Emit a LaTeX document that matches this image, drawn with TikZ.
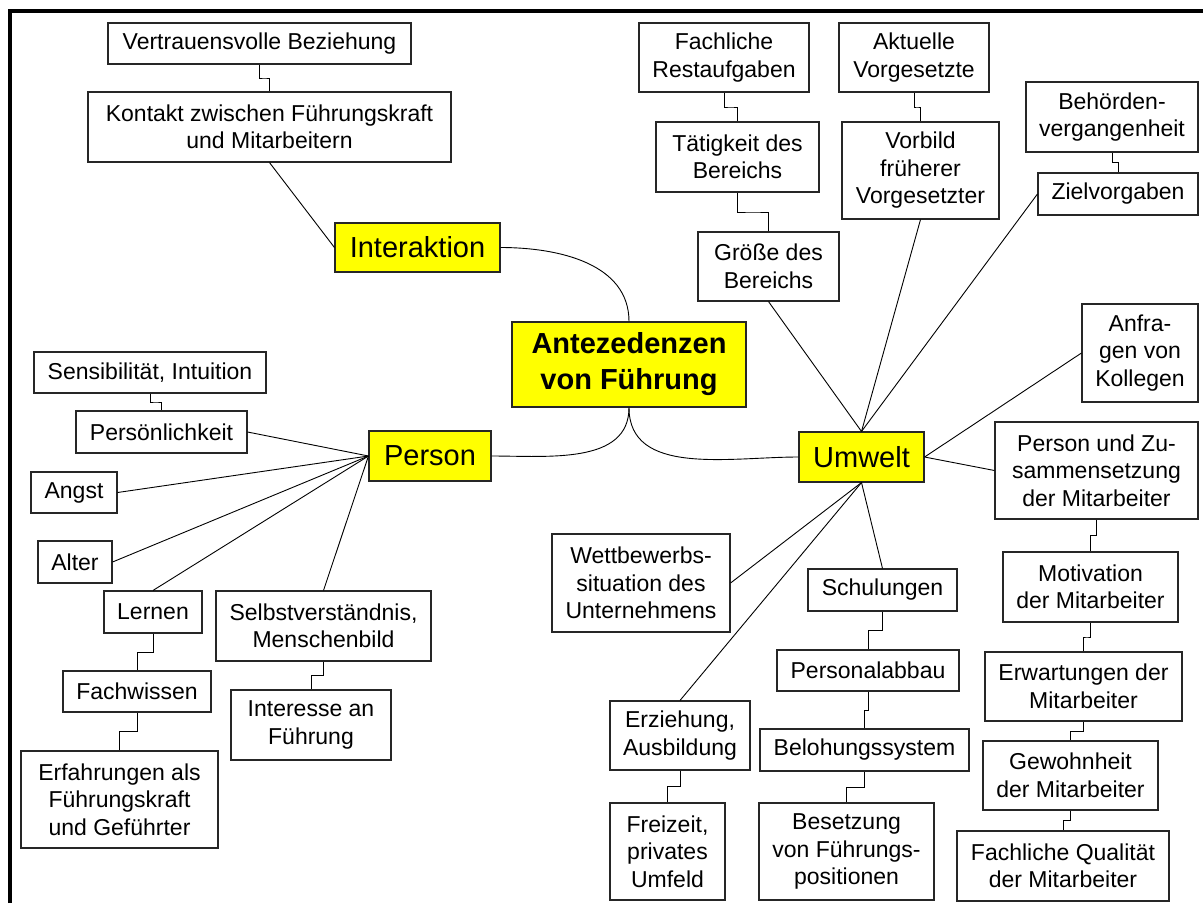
\documentclass[tikz,border=0pt]{standalone}
\usepackage{fontspec}
\setmainfont{Liberation Sans}
\usetikzlibrary{calc}
\definecolor{hubyellow}{RGB}{255,255,0}

\begin{document}
\begin{tikzpicture}[
    x=1pt, y=1pt,
    box/.style={draw=black!85, fill=white, line width=1.1pt, align=center, inner sep=1pt, font=\fontsize{23}{27.5}\selectfont},
    hub/.style={box, fill=hubyellow, font=\fontsize{29}{36}\selectfont},
    link/.style={draw=black, line width=0.9pt}
]
    \useasboundingbox (0,0) rectangle (1203,-903);
    % frame (top and left edge only)
    \draw[line width=3.5pt] (10,-903) -- (10,-11) -- (1203,-11);

    % centre and the three branches
    \node[hub, minimum width=234pt, minimum height=85pt, font=\fontsize{29}{36}\selectfont\bfseries] (antez) at (629,-364.5) {Antezedenzen\\von Führung};
    \node[hub, minimum width=165pt, minimum height=49pt] (interaktion) at (417.5,-247.5) {Interaktion};
    \node[hub, minimum width=122pt, minimum height=50pt] (person) at (430,-456) {Person};
    \node[hub, minimum width=125pt, minimum height=50pt] (umwelt) at (861.5,-457) {Umwelt};

    % Interaktion
    \node[box, minimum width=303pt, minimum height=41pt] (vertrauen) at (259.5,-43.5) {Vertrauensvolle Beziehung};
    \node[box, minimum width=363pt, minimum height=70pt] (kontakt) at (269.5,-127) {Kontakt zwischen Führungskraft\\und Mitarbeitern};

    % Person
    \node[box, minimum width=232pt, minimum height=41pt] (sensib) at (150,-372.5) {Sensibilität, Intuition};
    \node[box, minimum width=171pt, minimum height=42pt] (persoenl) at (161.5,-432) {Persönlichkeit};
    \node[box, minimum width=86pt, minimum height=41pt] (angst) at (74,-492.5) {Angst};
    \node[box, minimum width=74pt, minimum height=42pt] (alter) at (75,-562) {Alter};
    \node[box, minimum width=98pt, minimum height=42pt] (lernen) at (153,-612) {Lernen};
    \node[box, minimum width=148pt, minimum height=41pt] (fachwissen) at (137,-691.5) {Fachwissen};
    \node[box, minimum width=197pt, minimum height=97pt] (erfahrung) at (119.5,-799.5) {Erfahrungen als\\Führungskraft\\und Geführter};
    \node[box, minimum width=215pt, minimum height=70pt] (selbst) at (323.5,-626) {Selbstverständnis,\\Menschenbild};
    \node[box, minimum width=160pt, minimum height=70pt] (interesse) at (311,-725) {Interesse an\\Führung};

    % Umwelt, upper part
    \node[box, minimum width=170pt, minimum height=69pt] (restauf) at (724,-57.5) {Fachliche\\Restaufgaben};
    \node[box, minimum width=163pt, minimum height=70pt] (taetig) at (737.5,-157) {Tätigkeit des\\Bereichs};
    \node[box, minimum width=141pt, minimum height=69pt] (groesse) at (768.5,-266.5) {Größe des\\Bereichs};
    \node[box, minimum width=150pt, minimum height=69pt] (aktuell) at (914,-57.5) {Aktuelle\\Vorgesetzte};
    \node[box, minimum width=157pt, minimum height=97pt] (vorbild) at (920.5,-170.5) {Vorbild\\früherer\\Vorgesetzter};
    \node[box, minimum width=172pt, minimum height=70pt] (behoerde) at (1112,-117) {Behörden-\\vergangenheit};
    \node[box, minimum width=160pt, minimum height=42pt] (ziel) at (1118,-194) {Zielvorgaben};
    \node[box, minimum width=116pt, minimum height=98pt] (anfragen) at (1140,-353) {Anfra-\\gen von\\Kollegen};

    % Umwelt, right column
    \node[box, minimum width=203pt, minimum height=97pt] (zusammen) at (1096.5,-470.5) {Person und Zu-\\sammensetzung\\der Mitarbeiter};
    \node[box, minimum width=175pt, minimum height=70pt] (motivation) at (1090.5,-587) {Motivation\\der Mitarbeiter};
    \node[box, minimum width=197pt, minimum height=69pt] (erwartung) at (1083.5,-686.5) {Erwartungen der\\Mitarbeiter};
    \node[box, minimum width=175pt, minimum height=69pt] (gewohnheit) at (1070.5,-775.5) {Gewohnheit\\der Mitarbeiter};
    \node[box, minimum width=212pt, minimum height=70pt] (qualitaet) at (1063,-866) {Fachliche Qualität\\der Mitarbeiter};

    % Umwelt, lower part
    \node[box, minimum width=178pt, minimum height=98pt] (wettbewerb) at (641,-583) {Wettbewerbs-\\situation des\\Unternehmens};
    \node[box, minimum width=140pt, minimum height=69pt] (erziehung) at (680,-735.5) {Erziehung,\\Ausbildung};
    \node[box, minimum width=115pt, minimum height=97pt] (freizeit) at (667.5,-851.5) {Freizeit,\\privates\\Umfeld};
    \node[box, minimum width=149pt, minimum height=42pt] (schulung) at (882.5,-590) {Schulungen};
    \node[box, minimum width=182pt, minimum height=41pt] (personal) at (868,-670.5) {Personalabbau};
    \node[box, minimum width=209pt, minimum height=42pt] (belohnung) at (864.5,-750) {Belohungssystem};
    \node[box, minimum width=175pt, minimum height=97pt] (besetzung) at (846.5,-851.5) {Besetzung\\von Führungs-\\positionen};

    % curved links from the centre
    \draw[link] (interaktion.east) to[out=0, in=90] (antez.north);
    \draw[link] (antez.south) to[out=-90, in=0] (person.east);
    \draw[link] (antez.south) to[out=-90, in=180] (umwelt.west);

    % straight links
    \draw[link] (kontakt.south) -- (interaktion.west);
    \foreach \t in {persoenl.east, angst.east, alter.east, lernen.north, selbst.north}
        \draw[link] (person.west) -- (\t);
    \foreach \t in {groesse.south, vorbild.south, ziel.west}
        \draw[link] (umwelt.north) -- (\t);
    \foreach \t in {anfragen.west, zusammen.west}
        \draw[link] (umwelt.east) -- (\t);
    \foreach \t in {wettbewerb.east, erziehung.north, schulung.north}
        \draw[link] (umwelt.south) -- (\t);

    % stepped links between stacked boxes
    \foreach \a/\b in {vertrauen/kontakt, sensib/persoenl, lernen/fachwissen, fachwissen/erfahrung,
                       selbst/interesse, restauf/taetig, taetig/groesse, aktuell/vorbild, behoerde/ziel,
                       zusammen/motivation, motivation/erwartung, erwartung/gewohnheit, gewohnheit/qualitaet,
                       schulung/personal, personal/belohnung, belohnung/besetzung, erziehung/freizeit}
        \draw[link] (\a.south) |- ($(\a.south)!0.5!(\b.north)$) -| (\b.north);
\end{tikzpicture}
\end{document}
